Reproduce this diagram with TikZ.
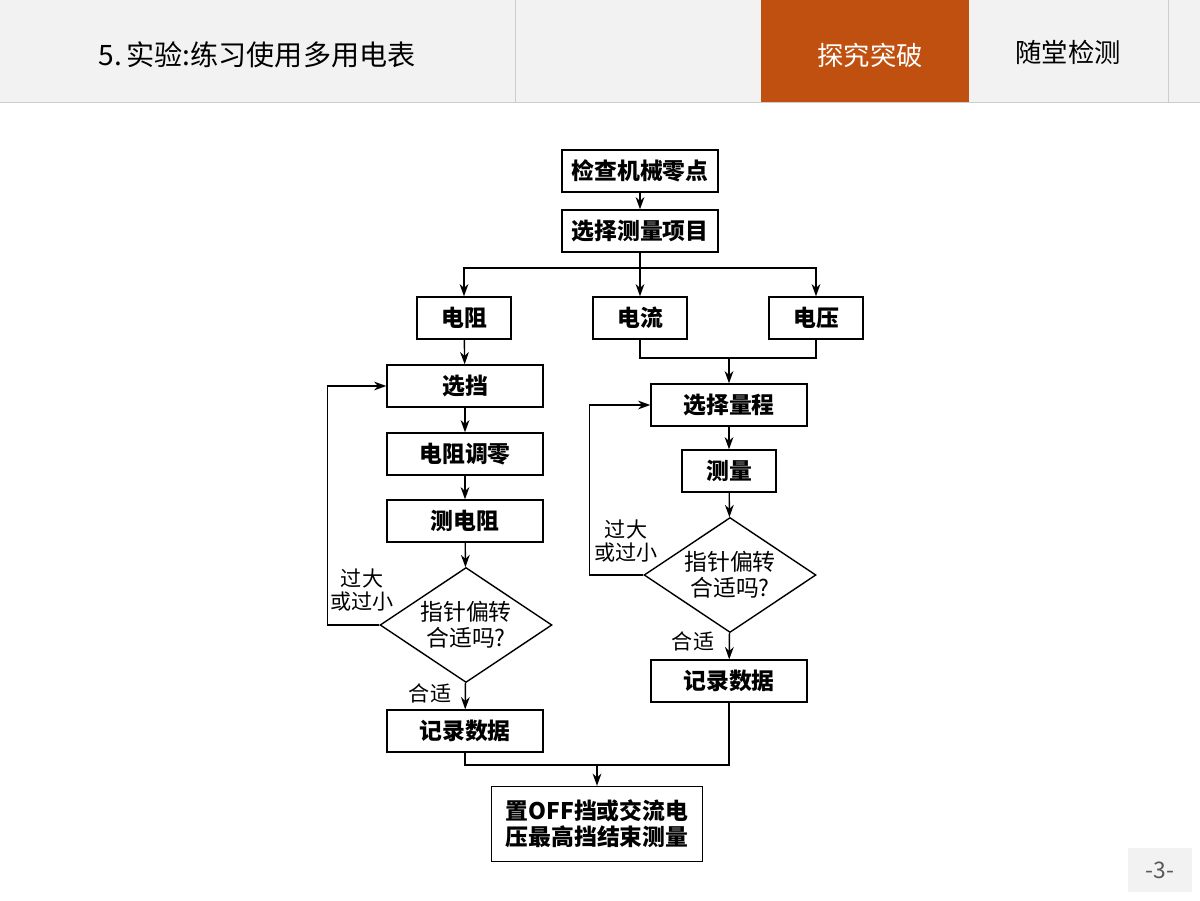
\documentclass[tikz,border=0pt]{standalone}
\usepackage{fontspec}
\setmainfont{Noto Sans CJK SC}
\usetikzlibrary{arrows.meta,shapes.geometric}
\definecolor{tabbg}{HTML}{F2F2F2}
\definecolor{taborange}{HTML}{C0500F}
\tikzset{
  box/.style={draw,thick,minimum height=0.84cm,inner sep=1pt,font=\bfseries\fontsize{13}{15}\selectfont},
  wbox/.style={box,minimum width=3.12cm},
  sbox/.style={box,minimum width=1.88cm},
  dec/.style={draw,thick,diamond,aspect=1.5,minimum width=3.44cm,minimum height=2.3cm,inner sep=0pt,align=center,font=\fontsize{13}{15}\selectfont},
  lbl/.style={font=\fontsize{12}{13}\selectfont,align=center},
  line/.style={thick},
  arr/.style={thick,-{Stealth[length=7pt,width=5pt]}},
}
\begin{document}
\begin{tikzpicture}[x=0.02cm,y=-0.02cm]
    \useasboundingbox (0,0) rectangle (1200,900);
    \fill[white] (0,0) rectangle (1200,900);

    % Kopfzeile
    \fill[tabbg] (0,0) rectangle (1200,102);
    \draw[gray!40] (0,102) -- (1200,102);
    \foreach \x in {515,1168} {
        \draw[gray!40] (\x,0) -- (\x,102);
    }
    \fill[taborange] (761,0) rectangle (969,102);
    \node[font=\fontsize{16}{18}\selectfont] (title) at (257,55) {5.\,实验:练习使用多用电表};
    \node[white,font=\fontsize{15}{17}\selectfont] (tabA) at (870,55) {探究突破};
    \node[font=\fontsize{15}{17}\selectfont] (tabB) at (1068,52) {随堂检测};
    \fill[tabbg] (1128,848) rectangle (1192,892);
    \node[gray!70!black,font=\fontsize{13}{15}\selectfont] (page) at (1160,870) {-3-};

    % Knoten
    \node[wbox] (zero) at (640,171) {检查机械零点};
    \node[wbox] (item) at (640,231) {选择测量项目};
    \node[sbox] (res) at (464,318) {电阻};
    \node[sbox] (cur) at (640,318) {电流};
    \node[sbox] (vol) at (816,318) {电压};

    \node[wbox] (gear) at (465,386) {选挡};
    \node[wbox] (rzero) at (465,454) {电阻调零};
    \node[wbox] (mres) at (465,521) {测电阻};
    \node[dec] (okL) at (466,625) {指针偏转\\合适吗?};
    \node[wbox] (recL) at (465,731) {记录数据};

    \node[wbox] (range) at (729,405) {选择量程};
    \node[sbox] (meas) at (729,471) {测量};
    \node[dec] (okR) at (730,575) {指针偏转\\合适吗?};
    \node[wbox] (recR) at (729,681) {记录数据};

    \node[box,minimum width=4.22cm,minimum height=1.5cm,align=center] (off) at (597,824) {置OFF挡或交流电\\压最高挡结束测量};

    % Verbindungen
    \coordinate (split) at (640,268);
    \coordinate (joinR) at (729,358);
    \coordinate (joinB) at (597,765);
    \draw[arr] (zero) -- (item);
    \draw[line] (item) -- (split);
    \draw[arr] (split) -| (res);
    \draw[arr] (split) -- (cur);
    \draw[arr] (split) -| (vol);
    \draw[arr] (res) -- (gear);
    \draw[arr] (gear) -- (rzero);
    \draw[arr] (rzero) -- (mres);
    \draw[arr] (mres) -- (okL);
    \draw[arr] (okL) -- (recL);
    \draw[arr] (okL.west) -- ++(-52,0) |- (gear.west);

    \draw[line] (cur) |- (joinR);
    \draw[line] (vol) |- (joinR);
    \draw[arr] (joinR) -- (range);
    \draw[arr] (range) -- (meas);
    \draw[arr] (meas) -- (okR);
    \draw[arr] (okR) -- (recR);
    \draw[arr] (okR.west) -- ++(-54,0) |- (range.west);

    \draw[line] (recL) |- (joinB);
    \draw[line] (recR) |- (joinB);
    \draw[arr] (joinB) -- (off);

    % Beschriftungen
    \node[lbl] (bigL) at (362,590) {过大\\或过小};
    \node[lbl] (fitL) at (430,693) {合适};
    \node[lbl] (bigR) at (626,541) {过大\\或过小};
    \node[lbl] (fitR) at (693,641) {合适};
\end{tikzpicture}
\end{document}
